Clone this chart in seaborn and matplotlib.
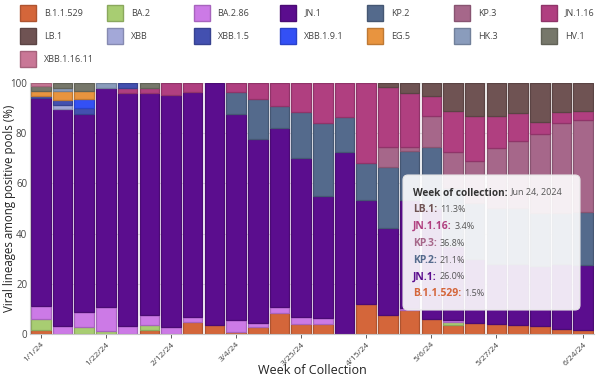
import matplotlib
matplotlib.use("Agg")
import matplotlib.pyplot as plt
import matplotlib.colors as mcolors
from matplotlib.patches import Rectangle, FancyBboxPatch
from matplotlib.transforms import IdentityTransform
import seaborn as sns
import pandas as pd
import numpy as np

# weeks of collection (2024)
weeks = ["1/1/24", "1/8/24", "1/15/24", "1/22/24", "1/29/24", "2/5/24", "2/12/24",
         "2/19/24", "2/26/24", "3/4/24", "3/11/24", "3/18/24", "3/25/24", "4/1/24",
         "4/8/24", "4/15/24", "4/22/24", "4/29/24", "5/6/24", "5/13/24", "5/20/24",
         "5/27/24", "6/3/24", "6/10/24", "6/17/24", "6/24/24"]
tick_weeks = ["1/1/24", "1/22/24", "2/12/24", "3/4/24", "3/25/24", "4/15/24",
              "5/6/24", "5/27/24", "6/24/24"]
tooltip_date = "Jun 24, 2024"

# share of each lineage per week (%), stacking order bottom -> top
b11529 = [1.6, 0, 0, 0, 0, 1.6, 0, 4.7, 3.6, 0.9, 2.7, 8.2, 4.0, 4.0, 0, 12.0, 7.6, 9.6, 6.0, 3.6, 4.5, 3.9, 3.6, 3.2, 1.9, 1.5]
ba2 = [4.3, 0, 2.6, 1.2, 0, 2.0, 0, 0, 0, 0, 0, 0, 0, 0, 0, 0, 0, 0, 0, 1.0, 0, 0, 0, 0, 0, 0]
ba286 = [5.3, 3.2, 6.1, 9.4, 3.3, 4.0, 2.6, 1.9, 0, 4.7, 1.8, 2.4, 2.6, 2.2, 0, 0, 0, 0.6, 0, 0.8, 0, 0, 0, 0, 0, 0]
jn1 = [82.7, 86.6, 78.9, 87.6, 92.7, 88.3, 92.6, 89.7, 96.4, 82.0, 73.1, 71.6, 63.4, 48.9, 72.6, 41.4, 34.8, 43.2, 44.0, 29.6, 25.5, 24.1, 24.4, 23.8, 26.1, 26.0]
kp2 = [0, 0, 0, 0, 0, 0, 0, 0, 0, 8.9, 15.9, 8.8, 18.3, 29.1, 13.7, 14.6, 24.0, 19.6, 24.4, 23.0, 22.0, 22.0, 22.0, 21.0, 20.0, 21.1]
kp3 = [0, 0, 0, 0, 0, 0, 0, 0, 0, 0, 0, 0, 0, 0, 0, 0, 8.0, 1.6, 12.5, 14.6, 16.9, 24.0, 26.9, 31.7, 35.9, 36.8]
jn116 = [0, 0, 0, 0, 2.0, 2.0, 4.8, 3.7, 0, 3.5, 6.5, 9.0, 11.7, 15.8, 13.7, 32.0, 24.1, 21.3, 7.9, 16.2, 18.0, 12.9, 11.3, 4.9, 4.4, 3.4]
lb1 = [0, 0, 0, 0, 0, 0, 0, 0, 0, 0, 0, 0, 0, 0, 0, 0, 1.5, 4.1, 5.2, 11.2, 13.1, 13.1, 11.8, 15.4, 11.7, 11.3]
xbb = [0, 1.3, 0, 0, 0, 0, 0, 0, 0, 0, 0, 0, 0, 0, 0, 0, 0, 0, 0, 0, 0, 0, 0, 0, 0, 0]
xbb15 = [0.9, 2.0, 2.4, 0, 2.0, 0, 0, 0, 0, 0, 0, 0, 0, 0, 0, 0, 0, 0, 0, 0, 0, 0, 0, 0, 0, 0]
xbb191 = [0, 0, 3.7, 0, 0, 0, 0, 0, 0, 0, 0, 0, 0, 0, 0, 0, 0, 0, 0, 0, 0, 0, 0, 0, 0, 0]
eg5 = [2.0, 3.7, 3.0, 0, 0, 0, 0, 0, 0, 0, 0, 0, 0, 0, 0, 0, 0, 0, 0, 0, 0, 0, 0, 0, 0, 0]
hk3 = [0, 1.3, 0, 1.8, 0, 0, 0, 0, 0, 0, 0, 0, 0, 0, 0, 0, 0, 0, 0, 0, 0, 0, 0, 0, 0, 0]
hv1 = [2.1, 2.0, 3.3, 0, 0, 2.1, 0, 0, 0, 0, 0, 0, 0, 0, 0, 0, 0, 0, 0, 0, 0, 0, 0, 0, 0, 0]
xbb11611 = [1.1, 0, 0, 0, 0, 0, 0, 0, 0, 0, 0, 0, 0, 0, 0, 0, 0, 0, 0, 0, 0, 0, 0, 0, 0, 0]

lineages = ["B.1.1.529", "BA.2", "BA.2.86", "JN.1", "KP.2", "KP.3", "JN.1.16", "LB.1",
            "XBB", "XBB.1.5", "XBB.1.9.1", "EG.5", "HK.3", "HV.1", "XBB.1.16.11"]
series = [b11529, ba2, ba286, jn1, kp2, kp3, jn116, lb1,
          xbb, xbb15, xbb191, eg5, hk3, hv1, xbb11611]
colors = ["#d4663a", "#a8cd72", "#cc7ae6", "#5b0d8e", "#546a8c", "#a6678a", "#b03f80",
          "#6f5353", "#a3a8d8", "#4350b0", "#3350f5", "#e8943f", "#8a9cbc", "#76776a",
          "#c97796"]
palette = dict(zip(lineages, colors))

rows = []
for name, vals in zip(lineages, series):
    for i, v in enumerate(vals):
        rows.append({"week": i, "lineage": name, "pct": v})
df = pd.DataFrame(rows)

sns.set_theme(style="white")
plt.rcParams["font.family"] = ["Open Sans", "DejaVu Sans"]

fig = plt.figure(figsize=(6, 3.86), dpi=100)
ax = fig.add_axes([0.05, 0.135, 0.94, 0.65])

# seaborn stacks the first hue level on top, so pass the order reversed
sns.histplot(data=df, x="week", weights="pct", hue="lineage",
             hue_order=lineages[::-1], palette=palette, multiple="stack",
             discrete=True, shrink=0.9, alpha=1, linewidth=0.9,
             legend=False, ax=ax)

for p in ax.patches:
    if p.get_height() <= 0:
        p.set_visible(False)
    else:
        fc = np.array(mcolors.to_rgb(p.get_facecolor()))
        p.set_edgecolor(fc * 0.82)

ax.set_xlim(-0.5, len(weeks) - 0.5)
ax.set_ylim(0, 100)
ax.set_yticks([0, 20, 40, 60, 80, 100])
ax.tick_params(axis="y", labelsize=7, colors="#444", length=0, pad=2)
tick_pos = [weeks.index(w) for w in tick_weeks]
ax.set_xticks(tick_pos)
ax.set_xticklabels(tick_weeks, rotation=45, ha="right", rotation_mode="anchor")
ax.tick_params(axis="x", labelsize=6, colors="#444", length=3, width=0.6, pad=2,
               bottom=True)
ax.grid(axis="y", color="#e2e2e2", linewidth=0.8)
ax.set_axisbelow(True)
for s in ["top", "right"]:
    ax.spines[s].set_visible(False)
for s in ["left", "bottom"]:
    ax.spines[s].set_color("#c8c8c8")
    ax.spines[s].set_linewidth(0.8)
ax.set_xlabel("Week of Collection", fontsize=9, color="#222", va="center")
ax.xaxis.set_label_coords(0.5, -0.145)
ax.set_ylabel("Viral lineages among positive pools (%)", fontsize=8.3, color="#222",
              va="center")
ax.yaxis.set_label_coords(-0.036, 0.5)

# legend grid at the top (7 columns)
px = IdentityTransform()
H = 386
for i, (name, col) in enumerate(zip(lineages, colors)):
    r, c = divmod(i, 7)
    x0 = 20 + c * 86.8
    yc = H - (13 + r * 23.2)
    fc = np.array(mcolors.to_rgb(col))
    fig.add_artist(Rectangle((x0, yc - 8), 16, 16, facecolor=fc,
                             edgecolor=fc * 0.82, linewidth=1, transform=px))
    fig.text(x0 + 24, yc, name, transform=px, fontsize=6.5, color="#444",
             va="center", ha="left")

# hover tooltip for the last week
fig.add_artist(FancyBboxPatch((403, H - 310), 177, 135,
                              boxstyle="round,pad=0,rounding_size=5",
                              facecolor=(1, 1, 1, 0.9), edgecolor="#e6e6e6",
                              linewidth=0.8, transform=px, zorder=5))
fig.canvas.draw()
rend = fig.canvas.get_renderer()


def two_part(x, y, head, tail, color, hsize):
    t = fig.text(x, y, head, transform=px, fontsize=hsize, fontweight="bold",
                 color=color, va="center", ha="left", zorder=6)
    w = t.get_window_extent(rend).width
    fig.text(x + w + 3, y, tail, transform=px, fontsize=6.5, color="#555",
             va="center", ha="left", zorder=6)


two_part(413, H - 193, "Week of collection:", tooltip_date, "#333", 7.2)
last = len(weeks) - 1
yy = H - 210
for name, vals, col in reversed(list(zip(lineages, series, colors))):
    if vals[last] > 0:
        two_part(413, yy, name + ":", f"{vals[last]:.1f}%", col, 7.5)
        yy -= 16.7

fig.savefig("out.png", dpi=100)
